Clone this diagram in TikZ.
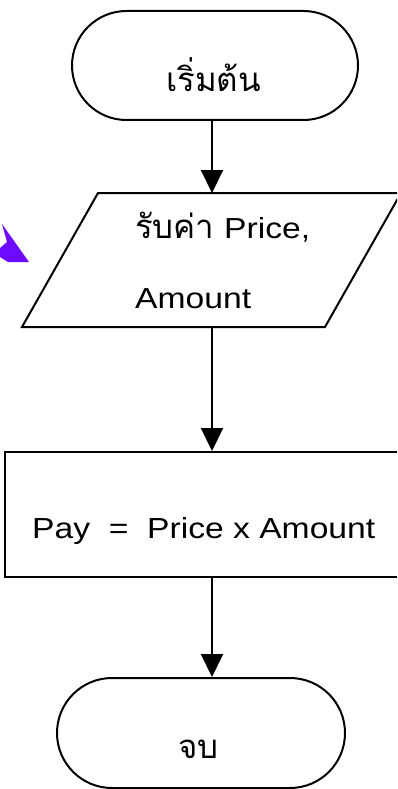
\documentclass[tikz,border=0pt]{standalone}
\usepackage{fontspec}
\setmainfont{Liberation Sans}[FakeStretch=1.16]
\newfontfamily\thaifont[Script=Thai]{Loma}
\usetikzlibrary{shapes.misc,arrows.meta}
\definecolor{pointer}{RGB}{110,10,255}
\tikzset{
  outline/.style={draw=black, line width=2pt},
  terminal/.style={outline, rounded rectangle, inner sep=0pt},
  process/.style={outline, rectangle, inner sep=0pt},
  flow/.style={draw=black, line width=2pt, -{Triangle[width=22pt,length=23pt]}},
  label/.style={anchor=base west, inner sep=0pt, font=\fontsize{29}{34}\selectfont},
  thailabel/.style={anchor=base west, inner sep=0pt, font=\thaifont\fontsize{33}{38}\selectfont},
}
\begin{document}
\begin{tikzpicture}[x=1pt,y=-1pt]
  \clip (0,0) rectangle (397,789);
  \fill[white] (0,0) rectangle (397,789);

  % vertical spine of the flow
  \coordinate (spine) at (212,0);

  % start terminal
  \node[terminal, minimum width=286pt, minimum height=109pt] (start) at (215,65.5) {};
  \node[thailabel] (starttext) at (166,92) {เริ่มต้น};

  % input parallelogram
  \coordinate (inTL) at (98,193);
  \coordinate (inTR) at (401,193);
  \coordinate (inBR) at (325,327);
  \coordinate (inBL) at (22,327);
  \draw[outline, line join=miter] (inTL) -- (inTR) -- (inBR) -- (inBL) -- cycle;
  \node[thailabel] (inthai) at (135,238) {รับค่า};
  \node[label, anchor=base west] (inprice) at (inthai.base east) {\ Price,};
  \node[label] (inamount) at (135,308) {Amount};

  % process box
  \node[process, minimum width=395pt, minimum height=125pt] (calc) at (202.5,514.5) {};
  \node[label] (calctext) at (32,538) {Pay\ \ =\ \ Price x Amount};

  % end terminal
  \node[terminal, minimum width=288pt, minimum height=110pt] (stop) at (201,733) {};
  \node[thailabel] (stoptext) at (178,758) {จบ};

  % connectors
  \draw[flow] (start.south -| spine) -- (inTL -| spine);
  \draw[flow] (inBL -| spine) -- (calc.north -| spine);
  \draw[flow] (calc.south -| spine) -- (stop.north -| spine);

  % partial pointer at the left edge
  \fill[pointer] (2,224) -- (29,262) -- (8,262) -- (0,257) -- (0,248) -- (7,242) -- cycle;
\end{tikzpicture}
\end{document}
